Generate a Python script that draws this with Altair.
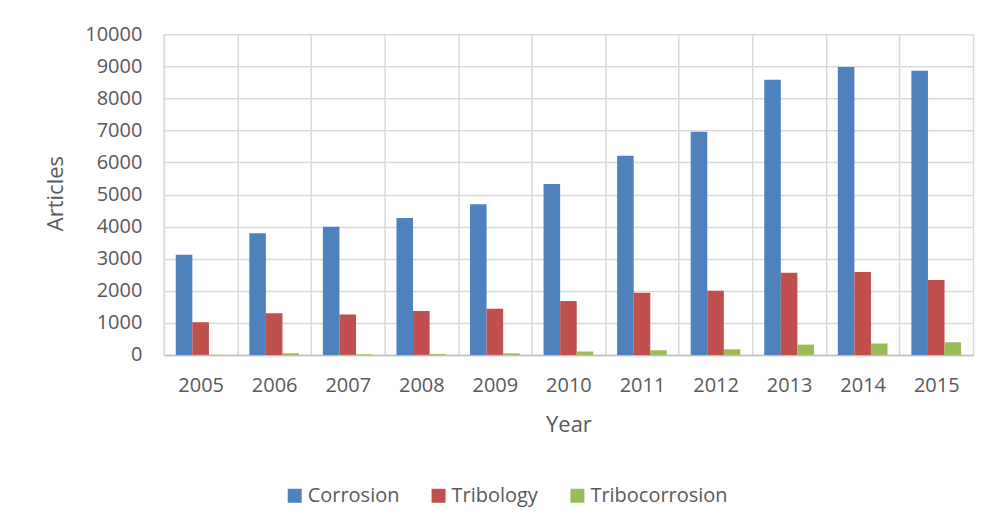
import altair as alt
import pandas as pd

years = ["2005", "2006", "2007", "2008", "2009", "2010", "2011", "2012", "2013", "2014", "2015"]
series = ["Corrosion", "Tribology", "Tribocorrosion"]
corrosion = [3120, 3790, 4000, 4270, 4700, 5330, 6210, 6960, 8580, 8980, 8860]
tribology = [1020, 1300, 1260, 1370, 1440, 1680, 1940, 2000, 2565, 2585, 2335]
tribocorrosion = [5, 50, 20, 30, 50, 105, 145, 175, 320, 355, 395]
colors = ["#4F81BD", "#C0504D", "#9BBB59"]
y_ticks = list(range(0, 10001, 1000))

rows = []
for name, vals in zip(series, [corrosion, tribology, tribocorrosion]):
    for yr, v in zip(years, vals):
        rows.append({"Year": yr, "Series": name, "Articles": v})
df = pd.DataFrame(rows)

FONT = "Open Sans"
TXT = "#595959"
GRID = "#d9d9d9"

chart = alt.Chart(df).mark_bar().encode(
    x=alt.X(
        "Year:N",
        sort=years,
        scale=alt.Scale(paddingInner=0, paddingOuter=0),
        axis=alt.Axis(
            title="Year",
            tickBand="extent",
            grid=True,
            gridColor=GRID,
            gridWidth=1.5,
            ticks=False,
            domainColor="#bfbfbf",
            domainWidth=1.5,
            labelAngle=0,
            labelFont=FONT,
            labelFontSize=20,
            labelColor=TXT,
            labelPadding=21,
            titleFont=FONT,
            titleFontSize=22,
            titleFontWeight="normal",
            titleColor=TXT,
            titleX=405,
            titleY=77,
            titleAlign="center",
            titleBaseline="alphabetic",
        ),
    ),
    xOffset=alt.XOffset(
        "Series:N",
        sort=series,
        scale=alt.Scale(paddingOuter=0.72, paddingInner=0),
    ),
    y=alt.Y(
        "Articles:Q",
        scale=alt.Scale(domain=[0, 10000], nice=False),
        axis=alt.Axis(
            title="Articles",
            values=y_ticks,
            format="d",
            grid=True,
            gridColor=GRID,
            gridWidth=1.5,
            ticks=False,
            domainColor=GRID,
            domainWidth=1.5,
            labelFont=FONT,
            labelFontSize=20,
            labelColor=TXT,
            labelPadding=22,
            titleFont=FONT,
            titleFontSize=22,
            titleFontWeight="normal",
            titleColor=TXT,
            titleX=-101,
            titleY=159,
            titleAngle=-90,
            titleAlign="center",
            titleBaseline="alphabetic",
        ),
    ),
    color=alt.Color(
        "Series:N",
        sort=series,
        scale=alt.Scale(domain=series, range=colors),
        legend=alt.Legend(
            title=None,
            orient="none",
            direction="horizontal",
            legendX=121,
            legendY=452,
            symbolType="square",
            symbolSize=196,
            symbolStrokeWidth=0,
            labelFont=FONT,
            labelFontSize=20,
            labelColor=TXT,
            labelOffset=3,
            columnPadding=29,
            padding=0,
        ),
    ),
).properties(
    width=810,
    height=321,
    autosize=alt.AutoSizeParams(type="none"),
    padding={"left": 156, "top": 26, "right": 10, "bottom": 160},
).configure_view(stroke=None)

chart.save("out.html", embed_options={"renderer": "svg", "actions": False})
